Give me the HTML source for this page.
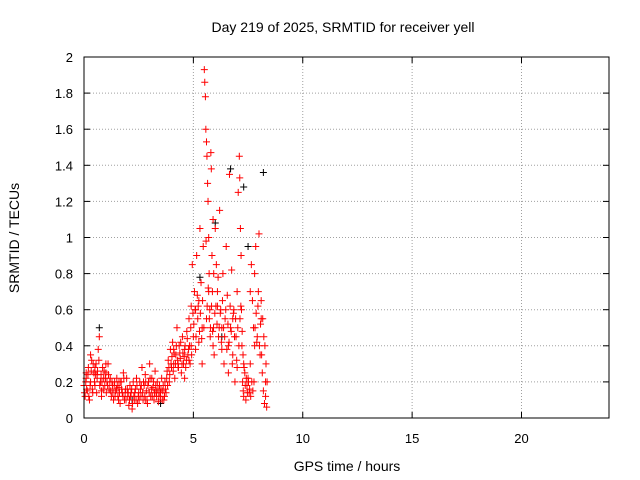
<!DOCTYPE html>
<html><head><meta charset="utf-8"><style>
body{margin:0;background:#fff;}
svg{display:block;font-family:"Liberation Sans",sans-serif;}
</style></head><body>
<svg id="chart" width="640" height="480" xmlns="http://www.w3.org/2000/svg">
<rect width="640" height="480" fill="#fff"/>
<text x="343" y="32" font-size="14" text-anchor="middle">Day 219 of 2025, SRMTID for receiver yell</text>
<text x="347" y="471" font-size="14" text-anchor="middle">GPS time / hours</text>
<text transform="translate(19,238) rotate(-90)" font-size="14" text-anchor="middle">SRMTID / TECUs</text>
<g id="grid"></g><g id="ticks"></g><g id="marks"></g>
<rect x="84" y="57" width="525" height="361" fill="none" stroke="#000"/>
</svg>
<script>
const xTicks=[0,5,10,15,20];
const yTicks=[0,0.2,0.4,0.6,0.8,1,1.2,1.4,1.6,1.8,2];
const yTickLabels=["0","0.2","0.4","0.6","0.8","1","1.2","1.4","1.6","1.8","2"];
const redTimes=[0,0.05,0.1,0.15,0.2,0.25,0.3,0.35,0.4,0.45,0.5,0.55,0.6,0.65,0.7,0.75,0.8,0.85,0.9,0.95,1.0,1.05,1.1,1.15,1.2,1.25,1.3,1.35,1.4,1.45,1.5,1.55,1.6,1.65,1.7,1.75,1.8,1.85,1.9,1.95,2.0,2.05,2.1,2.15,2.2,2.25,2.3,2.35,2.4,2.45,2.5,2.55,2.6,2.65,2.7,2.75,2.8,2.85,2.9,2.95,3.0,3.05,3.1,3.15,3.2,3.25,3.3,3.35,3.4,3.45,3.5,3.55,3.6,3.65,3.7,3.75,3.8,3.85,3.9,3.95,4.0,4.05,4.1,4.15,4.2,4.25,4.3,4.35,4.4,4.45,4.5,4.55,4.6,4.65,4.7,4.75,4.8,4.85,4.9,4.95,5.0,5.05,5.1,5.15,5.2,5.25,5.3,5.35,5.4,5.45,5.5,5.52,5.55,5.57,5.6,5.62,5.65,5.67,5.7,5.72,5.75,5.77,5.8,5.82,5.85,5.87,5.9,5.92,5.95,6.0,6.05,6.1,6.15,6.2,6.25,6.3,6.35,6.4,6.45,6.5,6.55,6.6,6.65,6.7,6.75,6.8,6.85,6.9,6.95,7.0,7.05,7.1,7.12,7.15,7.18,7.2,7.22,7.25,7.28,7.3,7.35,7.4,7.45,7.5,7.55,7.6,7.65,7.7,7.75,7.8,7.85,7.9,7.95,8.0,8.05,8.1,8.15,8.2,8.25,8.3,8.35,
0.1,0.3,0.5,0.8,1.0,4.3,4.6,4.9,5.1,5.25,5.4,5.6,5.7,5.9,6.1,6.3,6.6,6.8,7.0,7.3,7.6,7.8,8.1,8.3,0.6,1.6,2.8,3.3,4.1,4.8,
0.02,0.08,0.12,0.18,0.22,0.28,0.33,0.38,0.42,0.48,0.52,0.58,0.62,0.68,0.72,0.78,0.82,0.88,0.92,0.98,1.02,1.08,1.12,1.18,1.22,1.28,1.32,1.38,1.42,1.48,1.52,1.58,1.62,1.68,1.72,1.78,1.82,1.88,1.92,1.98,2.02,2.08,2.12,2.18,2.22,2.28,2.32,2.38,2.42,2.48,2.52,2.58,2.62,2.68,2.72,2.78,2.82,2.88,2.92,2.98,3.02,3.08,3.12,3.18,3.22,3.28,3.32,3.38,3.42,3.48,3.52,3.58,3.62,3.68,3.72,3.78,3.82,3.88,3.92,3.98,4.02,4.08,4.12,4.18,4.22,4.28,4.32,4.38,4.42,4.48,4.52,4.58,4.62,4.68,4.72,4.78,4.82,4.88,4.92,4.98,5.02,5.08,5.12,5.18,5.22,5.28,5.32,5.38,5.42,5.48,5.58,5.63,5.68,5.73,5.78,5.83,5.88,5.93,5.98,6.03,6.08,6.13,6.18,6.23,6.28,6.33,6.38,6.43,6.48,6.53,6.58,6.63,6.68,6.73,6.78,6.83,6.88,6.93,6.98,7.03,7.08,7.13,7.17,7.23,7.27,7.32,7.37,7.42,7.47,7.52,7.57,7.62,7.67,7.72,7.77,7.82,7.87,7.92,7.97,8.02,8.07,8.12,8.17,8.22,8.27,8.32,8.37];
const redValues=[0.18,0.12,0.22,0.15,0.28,0.1,0.2,0.32,0.14,0.25,0.18,0.3,0.22,0.38,0.45,0.2,0.15,0.28,0.22,0.18,0.25,0.2,0.3,0.16,0.22,0.12,0.18,0.1,0.2,0.15,0.22,0.12,0.17,0.08,0.2,0.14,0.25,0.1,0.16,0.22,0.12,0.07,0.18,0.14,0.05,0.2,0.1,0.16,0.22,0.08,0.14,0.2,0.12,0.28,0.1,0.18,0.24,0.15,0.08,0.2,0.3,0.12,0.22,0.17,0.1,0.26,0.14,0.2,0.09,0.18,0.12,0.22,0.15,0.1,0.2,0.14,0.26,0.32,0.2,0.38,0.28,0.42,0.3,0.22,0.35,0.5,0.28,0.4,0.33,0.25,0.45,0.3,0.38,0.28,0.48,0.35,0.55,0.3,0.62,0.85,0.45,0.7,0.38,0.9,0.55,0.42,1.05,0.75,0.3,0.95,1.93,1.86,1.78,1.6,1.53,1.45,1.3,1.2,1.0,0.8,0.6,0.45,1.47,1.38,0.9,0.7,1.1,0.5,0.35,1.05,0.85,0.7,0.45,1.15,0.6,0.38,0.8,0.3,0.55,0.95,0.68,0.25,1.35,0.5,0.82,0.35,0.6,0.2,0.45,0.7,1.25,1.45,1.33,1.05,0.9,0.6,0.4,0.2,0.15,0.12,0.25,0.1,0.18,0.22,0.14,0.3,0.85,0.65,0.5,0.8,0.95,0.42,0.62,1.02,0.35,0.65,0.25,0.15,0.08,0.12,0.06,
0.25,0.35,0.28,0.12,0.3,0.3,0.22,0.4,0.6,0.65,0.5,0.55,0.7,0.4,0.62,0.5,0.4,0.55,0.28,0.3,0.7,0.4,0.55,0.2,0.24,0.2,0.1,0.15,0.38,0.32,
0.14,0.2,0.16,0.24,0.12,0.18,0.26,0.16,0.3,0.2,0.24,0.14,0.26,0.32,0.18,0.24,0.2,0.16,0.26,0.22,0.14,0.18,0.24,0.2,0.15,0.2,0.14,0.18,0.12,0.16,0.18,0.1,0.14,0.2,0.16,0.12,0.22,0.14,0.1,0.16,0.14,0.1,0.12,0.16,0.08,0.12,0.14,0.1,0.18,0.12,0.1,0.16,0.18,0.14,0.2,0.12,0.2,0.1,0.18,0.14,0.22,0.16,0.12,0.2,0.14,0.18,0.12,0.16,0.12,0.14,0.16,0.1,0.18,0.12,0.16,0.22,0.18,0.28,0.24,0.3,0.34,0.26,0.36,0.3,0.4,0.32,0.28,0.36,0.42,0.3,0.36,0.34,0.4,0.32,0.44,0.38,0.4,0.5,0.35,0.58,0.52,0.6,0.45,0.68,0.62,0.48,0.58,0.44,0.65,0.5,0.98,0.62,0.72,0.55,0.5,0.62,0.48,0.8,0.58,0.62,0.52,0.78,0.5,0.58,0.42,0.65,0.5,0.45,0.6,0.38,0.52,0.42,0.62,0.48,0.3,0.58,0.45,0.55,0.32,0.5,0.4,0.55,0.62,0.48,0.35,0.28,0.18,0.22,0.14,0.2,0.16,0.12,0.2,0.15,0.2,0.5,0.58,0.45,0.7,0.4,0.52,0.35,0.55,0.45,0.4,0.3,0.2,0.1,0.14,0.09];
const blackTimes=[0.7,2.2,3.5,5.3,6.0,6.3,6.7,7.3,7.5,8.2];
const blackValues=[0.5,0.1,0.08,0.78,1.08,0.45,1.38,1.28,0.95,1.36];
const X=t=>84+t*525/24;
const Y=v=>418-v*361/2;
const NS="http://www.w3.org/2000/svg";
const grid=document.getElementById('grid'),ticks=document.getElementById('ticks'),marks=document.getElementById('marks');
function ln(p,x1,y1,x2,y2,st,da){const l=document.createElementNS(NS,'line');l.setAttribute('x1',x1);l.setAttribute('y1',y1);l.setAttribute('x2',x2);l.setAttribute('y2',y2);l.setAttribute('stroke',st);if(da)l.setAttribute('stroke-dasharray',da);p.appendChild(l);return l;}
function tx(x,y,s,a){const t=document.createElementNS(NS,'text');t.setAttribute('x',x);t.setAttribute('y',y);t.setAttribute('font-size','13');t.setAttribute('text-anchor',a);t.textContent=s;ticks.appendChild(t);return t;}
xTicks.forEach(v=>{const x=X(v);
 if(v>0){const g=ln(grid,x,57,x,418,'#a0a0a0','1,2');
 
 }
 ln(ticks,x,418,x,412,'#000');ln(ticks,x,57,x,63,'#000');
 const t=tx(x,443,String(v),'middle');
 
 });
yTicks.forEach((v,i)=>{const y=Y(v);
 if(v>0&&v<2){const g=ln(grid,84,y,609,y,'#a0a0a0','1,2');
 
 }
 ln(ticks,84,y,90,y,'#000');ln(ticks,609,y,603,y,'#000');
 const t=tx(73,y+5,yTickLabels[i],'end');
 
 });
function plus(t,v,c,name){const x=X(t),y=Y(v);const p=document.createElementNS(NS,'path');
 p.setAttribute('d',`M${x-3.5},${y}H${x+3.5}M${x},${y-3.5}V${y+3.5}`);p.setAttribute('stroke',c);p.setAttribute('fill','none');
 
 
 marks.appendChild(p);}
blackTimes.forEach((t,i)=>plus(t,blackValues[i],'#000','srmtid-point-black'));
redTimes.forEach((t,i)=>plus(t,redValues[i],'#f00','srmtid-point-red'));
</script>
</body></html>
